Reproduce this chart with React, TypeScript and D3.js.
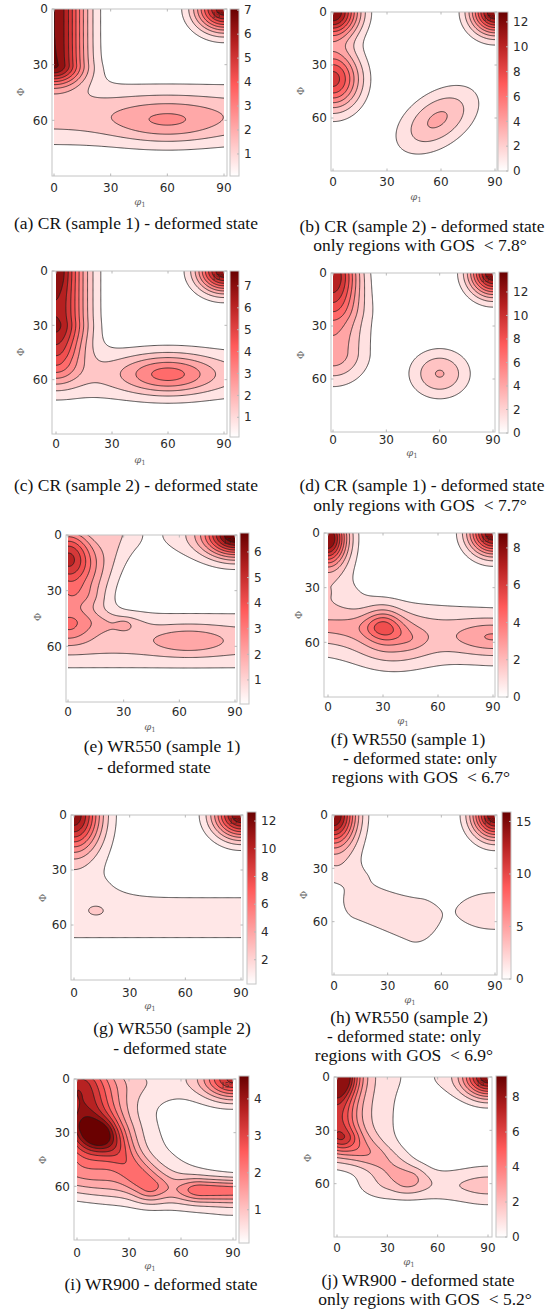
import React from "react";
import * as d3 from "d3";

// blob = [φ1 from, Φ from, φ1 to, Φ to, height, spread φ1, spread Φ, tilt°]
type Blob = number[];

const phi1Ticks = [0, 30, 60, 90];
const bigPhiTicks = [0, 30, 60];

const blobsA: Blob[] = [
  [0, 0, 0, 30, 7.0, 11.5, 8],
  [0, 57, 90, 57, 1.7, 20, 12],
  [60, 61, 60, 61, 1.3, 20, 8],
  [90, 0, 90, 0, 6.8, 10.5, 8.5],
];
const blobsB: Blob[] = [
  [0, 0, 0, 0, 12.8, 10, 10],
  [0, 38, 0, 38, 9.5, 10.5, 12],
  [58, 61, 58, 61, 4.1, 17, 10, -35],
  [90, 0, 90, 0, 12.8, 9.3, 8.7],
];
const blobsC: Blob[] = [
  [0, 0, 0, 28, 6.8, 11.5, 12],
  [0, 0, 0, 0, 0.9, 5, 8],
  [0, 48, 0, 50, 2.5, 9, 9],
  [0, 57, 90, 57, 1.4, 20, 11],
  [60, 57, 60, 57, 2.8, 17, 7.5],
  [90, 0, 90, 0, 7.6, 10, 8.2],
];
const blobsD: Blob[] = [
  [0, 0, 0, 0, 11.5, 10, 14],
  [0, 25, 0, 45, 5, 13, 12],
  [60, 57, 60, 57, 4.2, 11.5, 9.5],
  [90, 0, 90, 0, 13.7, 9.3, 9],
];
const blobsE: Blob[] = [
  [0, 13, 0, 13, 5.5, 10, 12],
  [27, 0, 14, 30, 1.15, 8, 10],
  [0, 35, 0, 50, 1.6, 9, 6],
  [0, 46, 30, 48, 0.7, 8, 4],
  [0, 57, 90, 57, 1.6, 20, 11],
  [65, 57, 65, 57, 1.0, 14, 5],
  [30, 48, 30, 48, 0.4, 3, 2],
  [90, 0, 90, 0, 6, 11, 8],
  [90, 0, 90, 0, 1.5, 30, 10],
];
const blobsF: Blob[] = [
  [0, 3, 0, 3, 7.8, 7, 10],
  [0, 0, 0, 30, 1.2, 12, 8],
  [0, 52, 90, 57, 2.0, 20, 12],
  [30, 50, 30, 50, 2.0, 7, 7],
  [0, 51, 30, 52, 0.8, 10, 5],
  [30, 52, 45, 58, 0.6, 6, 4],
  [90, 57, 90, 57, 1.6, 14, 6],
  [35, 63, 35, 63, 1.2, 15, 10],
  [90, 0, 90, 0, 8.8, 9.3, 8.5],
];
const blobsG: Blob[] = [
  [0, 0, 0, 0, 11, 9.8, 14],
  [0, 0, 0, 35, 1.2, 18, 9],
  [0, 56, 90, 56, 1.9, 20, 12],
  [12, 52, 12, 52, 0.9, 4, 2.5],
  [90, 0, 90, 0, 12.6, 10.5, 9],
];
const blobsH: Blob[] = [
  [0, 0, 0, 0, 13.7, 8.5, 12],
  [0, 0, 0, 33, 2.2, 12, 4],
  [14, 48, 45, 60, 2.5, 9, 11],
  [90, 54, 90, 54, 2.3, 24, 12],
  [90, 0, 90, 0, 15.9, 9.1, 9.3],
];
const blobsI: Blob[] = [
  [0, 5, 8, 30, 3.3, 14, 12],
  [4, 27, 11, 32, 0.7, 6, 5],
  [0, 10, 20, 45, 0.8, 30, 14],
  [15, 30, 42, 60, 1.2, 7, 6],
  [0, 55, 90, 66, 1.0, 20, 8],
  [72, 62, 90, 62, 1.6, 10, 4.5],
  [40, 0, 90, 0, 0.6, 20, 9],
  [90, 0, 90, 0, 3.2, 12, 8],
];
const blobsJ: Blob[] = [
  [0, 0, 0, 0, 5, 9, 8],
  [0, 0, 0, 32, 4.2, 8, 6],
  [0, 0, 0, 40, 2.4, 24, 8],
  [8, 37, 42, 56, 2.0, 8, 6],
  [30, 61, 90, 61, 1.5, 15, 7],
  [90, 61, 90, 61, 0.7, 14, 12],
  [90, 0, 90, 0, 7.5, 10, 8],
  [90, 0, 90, 0, 1.5, 27, 9],
];

const rangeA = [0.08, 7.05], stepA = 0.7, cbTicksA = [1, 2, 3, 4, 5, 6, 7];
const rangeB = [0, 12.8], stepB = 1.28, cbTicksB = [0, 2, 4, 6, 8, 10, 12];
const rangeC = [0.1, 7.68], stepC = 0.77, cbTicksC = [1, 2, 3, 4, 5, 6, 7];
const rangeD = [0, 13.7], stepD = 1.37, cbTicksD = [0, 2, 4, 6, 8, 10, 12];
const rangeE = [0.06, 6.74], stepE = 0.67, cbTicksE = [1, 2, 3, 4, 5, 6];
const rangeF = [0, 8.8], stepF = 0.88, cbTicksF = [0, 2, 4, 6, 8];
const rangeG = [0.25, 12.65], stepG = 1.26, cbTicksG = [2, 4, 6, 8, 10, 12];
const rangeH = [0, 15.9], stepH = 1.59, cbTicksH = [0, 5, 10, 15];
const rangeI = [0.1, 4.62], stepI = 0.46, cbTicksI = [1, 2, 3, 4];
const rangeJ = [0, 9.2], stepJ = 0.92, cbTicksJ = [0, 2, 4, 6, 8];

const captionA = ["(a) CR (sample 1) - deformed state"];
const captionB = ["(b) CR (sample 2) - deformed state", "only regions with GOS\u2002< 7.8°"];
const captionC = ["(c) CR (sample 2) - deformed state"];
const captionD = ["(d) CR (sample 1) - deformed state", "only regions with GOS\u2002< 7.7°"];
const captionE = ["(e) WR550 (sample 1)", "- deformed state"];
const captionF = ["(f) WR550 (sample 1)", "- deformed state: only", "regions with GOS\u2002< 6.7°"];
const captionG = ["(g) WR550 (sample 2)", "- deformed state"];
const captionH = ["(h) WR550 (sample 2)", "- deformed state: only", "regions with GOS\u2002< 6.9°"];
const captionI = ["(i) WR900 - deformed state"];
const captionJ = ["(j) WR900 - deformed state", "only regions with GOS\u2002< 5.2°"];

const redMap = d3
  .scaleLinear<string>()
  .domain([0, 0.55, 0.8, 1])
  .range(["#ffffff", "#ff5a5a", "#b52020", "#680000"])
  .clamp(true);

// grid in degrees, a bit wider than 0..90 so the outer rings fall outside the clip
const lo = -3, hi = 93, res = 0.5;
const n = Math.round((hi - lo) / res) + 1;

function blobValue(b: Blob, x: number, y: number) {
  const [ax, ay, bx, by, h, sx, sy, tilt = 0] = b;
  const r = (tilt * Math.PI) / 180, c = Math.cos(r), s = Math.sin(r);
  const tr = (px: number, py: number) => [(px * c + py * s) / sx, (-px * s + py * c) / sy];
  const [p0, p1] = tr(x, y), [a0, a1] = tr(ax, ay), [b0, b1] = tr(bx, by);
  const d0 = b0 - a0, d1 = b1 - a1, len = d0 * d0 + d1 * d1;
  let t = len > 0 ? ((p0 - a0) * d0 + (p1 - a1) * d1) / len : 0;
  t = Math.max(0, Math.min(1, t));
  const e0 = p0 - (a0 + t * d0), e1 = p1 - (a1 + t * d1);
  return h * Math.exp(-(e0 * e0 + e1 * e1) / 2);
}

function makeGrid(blobs: Blob[]) {
  const vals = new Array(n * n);
  for (let j = 0; j < n; j++) {
    for (let i = 0; i < n; i++) {
      const x = lo + i * res, y = lo + j * res;
      let v = 0;
      for (const b of blobs) v += blobValue(b, x, y);
      vals[j * n + i] = v;
    }
  }
  return vals;
}

type Box = {
  x0: number; x90: number; y0: number; y90: number; fl: number; fr: number;
  cbL: number; cbR: number; cbT: number; cbB: number; tickY: number;
  labX: number; labY: number; phiX: number; phiY: number; capX: number[]; capY: number[];
};

const boxes: Box[] = [
  { x0: 54, x90: 224, y0: 9, y90: 176, fl: 52, fr: 227, cbL: 230, cbR: 239, cbT: 9, cbB: 176, tickY: 188, labX: 140, labY: 202, phiX: 20, phiY: 92, capX: [136], capY: [223] },
  { x0: 333, x90: 495, y0: 12, y90: 171, fl: 331, fr: 497, cbL: 498, cbR: 508, cbT: 12, cbB: 171, tickY: 182, labX: 416, labY: 197, phiX: 300, phiY: 91, capX: [422, 420], capY: [226, 245] },
  { x0: 56, x90: 224, y0: 271, y90: 434, fl: 52, fr: 227, cbL: 230, cbR: 239, cbT: 271, cbB: 437, tickY: 444, labX: 140, labY: 460, phiX: 20, phiY: 352, capX: [136], capY: [485] },
  { x0: 333, x90: 493, y0: 273, y90: 432, fl: 331, fr: 495, cbL: 499, cbR: 508, cbT: 272, cbB: 433, tickY: 440, labX: 412, labY: 453, phiX: 300, phiY: 355, capX: [422, 420], capY: [485, 505] },
  { x0: 68, x90: 235, y0: 535, y90: 702, fl: 66, fr: 237, cbL: 240, cbR: 249, cbT: 533, cbB: 704, tickY: 712, labX: 150, labY: 727, phiX: 37, phiY: 617, capX: [162, 154], capY: [746, 767] },
  { x0: 328, x90: 493, y0: 533, y90: 697, fl: 324, fr: 495, cbL: 498, cbR: 508, cbT: 533, cbB: 697, tickY: 707, labX: 403, labY: 721, phiX: 298, phiY: 615, capX: [408, 420, 421], capY: [739, 758, 777] },
  { x0: 74, x90: 241, y0: 815, y90: 980, fl: 71, fr: 243, cbL: 247, cbR: 256, cbT: 812, cbB: 984, tickY: 993, labX: 150, labY: 1006, phiX: 42, phiY: 898, capX: [172, 170], capY: [1028, 1048] },
  { x0: 334, x90: 495, y0: 815, y90: 975, fl: 332, fr: 497, cbL: 502, cbR: 511, cbT: 812, cbB: 979, tickY: 986, labX: 410, labY: 1000, phiX: 303, phiY: 895, capX: [409, 404, 404], capY: [1017, 1036, 1055] },
  { x0: 77, x90: 233, y0: 1079, y90: 1240, fl: 74, fr: 236, cbL: 239, cbR: 249, cbT: 1076, cbB: 1243, tickY: 1253, labX: 150, labY: 1266, phiX: 42, phiY: 1160, capX: [161], capY: [1284] },
  { x0: 337, x90: 488, y0: 1077, y90: 1237, fl: 334, fr: 492, cbL: 496, cbR: 507, cbT: 1076, cbB: 1237, tickY: 1248, labX: 409, labY: 1262, phiX: 307, phiY: 1158, capX: [418, 425], capY: [1280, 1299] },
];

const panels = [
  { blobs: blobsA, range: rangeA, step: stepA, cbTicks: cbTicksA, caption: captionA },
  { blobs: blobsB, range: rangeB, step: stepB, cbTicks: cbTicksB, caption: captionB },
  { blobs: blobsC, range: rangeC, step: stepC, cbTicks: cbTicksC, caption: captionC },
  { blobs: blobsD, range: rangeD, step: stepD, cbTicks: cbTicksD, caption: captionD },
  { blobs: blobsE, range: rangeE, step: stepE, cbTicks: cbTicksE, caption: captionE },
  { blobs: blobsF, range: rangeF, step: stepF, cbTicks: cbTicksF, caption: captionF },
  { blobs: blobsG, range: rangeG, step: stepG, cbTicks: cbTicksG, caption: captionG },
  { blobs: blobsH, range: rangeH, step: stepH, cbTicks: cbTicksH, caption: captionH },
  { blobs: blobsI, range: rangeI, step: stepI, cbTicks: cbTicksI, caption: captionI },
  { blobs: blobsJ, range: rangeJ, step: stepJ, cbTicks: cbTicksJ, caption: captionJ },
];

const tickFont = "'DejaVu Sans', sans-serif";
const capFont = "'Liberation Serif', serif";

function Panel({ idx }: { idx: number }) {
  const p = panels[idx], b = boxes[idx];
  const x = d3.scaleLinear().domain([0, 90]).range([b.x0, b.x90]);
  const y = d3.scaleLinear().domain([0, 90]).range([b.y0, b.y90]);
  const [vmin, vmax] = p.range;
  const tcol = (v: number) => redMap((v - vmin) / (vmax - vmin));

  const levels = d3.range(p.step, vmax - 1e-6, p.step);
  const grid = makeGrid(p.blobs);
  const contours = d3.contours().size([n, n]).smooth(true).thresholds(levels)(grid);
  const proj = d3.geoTransform({
    point(cx: number, cy: number) {
      this.stream.point(x(lo + (cx - 0.5) * res), y(lo + (cy - 0.5) * res));
    },
  });
  const path = d3.geoPath(proj);

  const cb = d3.scaleLinear().domain([vmin, vmax]).range([b.cbB, b.cbT]);
  const clipId = `clip${idx}`, gradId = `grad${idx}`;
  const stops = d3.range(0, 1.0001, 0.05);

  return (
    <g>
      <defs>
        <clipPath id={clipId}>
          <rect x={b.x0} y={b.y0} width={b.x90 - b.x0} height={b.y90 - b.y0} />
        </clipPath>
        <linearGradient id={gradId} x1="0" y1="1" x2="0" y2="0">
          {stops.map((s) => (
            <stop key={s} offset={s} stopColor={redMap(s)} />
          ))}
        </linearGradient>
      </defs>
      <rect x={b.fl} y={b.y0} width={b.fr - b.fl} height={b.y90 - b.y0} fill="#fff" />
      <g clipPath={`url(#${clipId})`}>
        {contours.map((c, k) => (
          <path key={k} d={path(c as any) || ""} fill={tcol(c.value)} stroke="#1c1c1c" strokeWidth={0.9} strokeOpacity={0.85} />
        ))}
        <text x={b.x90 - 1} y={b.y0 + 9} textAnchor="end" fontSize={8} fontFamily={capFont} fill="#222" opacity={0.75}>15°</text>
      </g>
      <rect x={b.fl} y={b.y0} width={b.fr - b.fl} height={b.y90 - b.y0} fill="none" stroke="#c4c4c4" strokeWidth={1} />
      {phi1Ticks.map((t) => (
        <g key={"x" + t}>
          <line x1={x(t)} x2={x(t)} y1={b.y90} y2={b.y90 - 2.5} stroke="#b8b8b8" />
          <line x1={x(t)} x2={x(t)} y1={b.y0} y2={b.y0 + 2.5} stroke="#b8b8b8" />
          <text x={x(t)} y={b.tickY} dy="0.35em" textAnchor="middle" fontSize={12} fontFamily={tickFont} fill="#2a2a2a">{t}</text>
        </g>
      ))}
      {bigPhiTicks.map((t) => (
        <g key={"y" + t}>
          <line x1={b.fl} x2={b.fl + 2.5} y1={y(t)} y2={y(t)} stroke="#b8b8b8" />
          <line x1={b.fr} x2={b.fr - 2.5} y1={y(t)} y2={y(t)} stroke="#b8b8b8" />
          <text x={b.fl - 4} y={y(t)} dy="0.35em" textAnchor="end" fontSize={12} fontFamily={tickFont} fill="#2a2a2a">{t}</text>
        </g>
      ))}
      <text x={b.labX} y={b.labY} dy="0.3em" textAnchor="middle" fontSize={10} fontFamily="'DejaVu Serif', serif" fill="#666">
        <tspan fontStyle="italic">φ</tspan>
        <tspan fontSize={7} dy="2">1</tspan>
      </text>
      <text transform={`translate(${b.phiX},${b.phiY}) rotate(-90)`} dy="0.35em" textAnchor="middle" fontSize={10} fontFamily="'DejaVu Serif', serif" fill="#666">Φ</text>
      <rect x={b.cbL} y={b.cbT} width={b.cbR - b.cbL} height={b.cbB - b.cbT} fill={`url(#${gradId})`} stroke="#c4c4c4" strokeWidth={1} />
      {p.cbTicks.map((t) => (
        <g key={"c" + t}>
          <line x1={b.cbR} x2={b.cbR - 2} y1={cb(t)} y2={cb(t)} stroke="#b8b8b8" />
          <text x={b.cbR + 5} y={cb(t)} dy="0.35em" fontSize={12} fontFamily={tickFont} fill="#2a2a2a">{t}</text>
        </g>
      ))}
      {p.caption.map((line, k) => (
        <text key={k} x={b.capX[k]} y={b.capY[k]} dy="0.33em" textAnchor="middle" fontSize={17.5} fontFamily={capFont} fill="#111" style={{ whiteSpace: "pre" }}>{line}</text>
      ))}
    </g>
  );
}

export default function App() {
  return (
    <svg width={555} height={1310} style={{ position: "absolute", left: 0, top: 0, background: "#fff" }}>
      <rect width={555} height={1310} fill="#fff" />
      {panels.map((_, i) => (
        <Panel key={i} idx={i} />
      ))}
    </svg>
  );
}
